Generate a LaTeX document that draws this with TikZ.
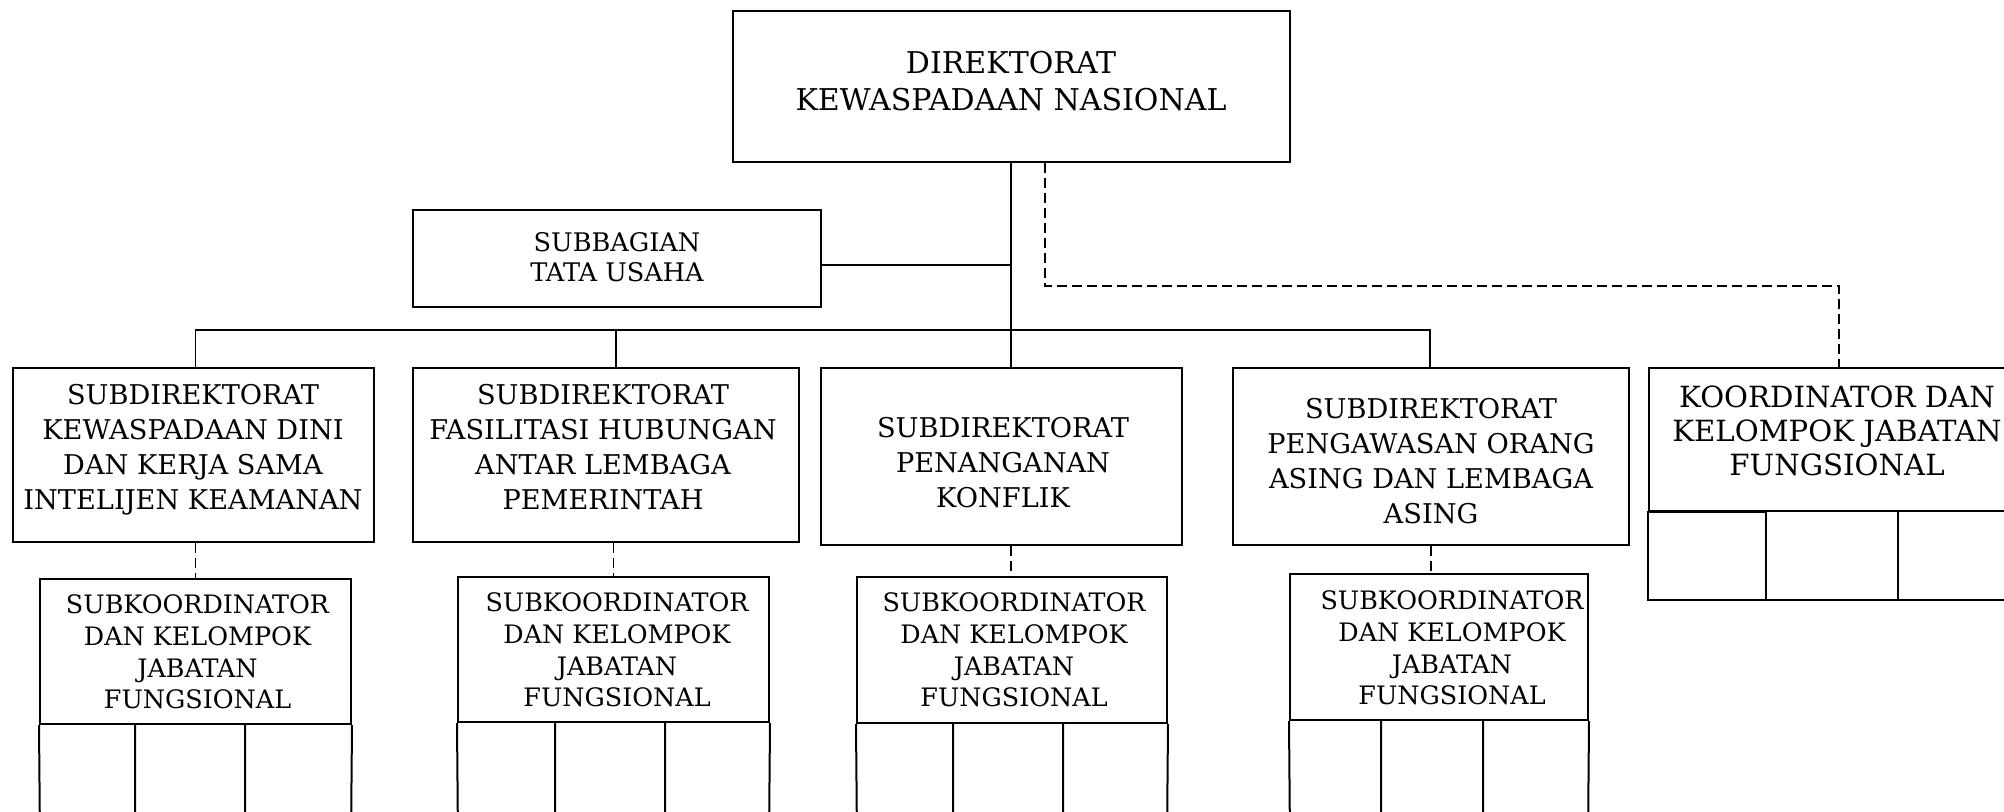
\documentclass[tikz,border=0pt]{standalone}
\usepackage{fontspec}
\setmainfont{DejaVu Serif}
\begin{document}
\begin{tikzpicture}[x=0.5pt,y=-0.5pt,
  box/.style={draw,line width=1pt,rectangle,inner sep=0pt},
  cell/.style={draw,line width=1pt},
  conn/.style={draw,line width=0.9pt},
  dline/.style={draw,line width=0.9pt,dash pattern=on 5pt off 2.5pt},
  bigtxt/.style={align=center,font=\fontsize{15pt}{18.5pt}\selectfont,inner sep=0pt},
  midtxt/.style={align=center,font=\fontsize{13.6pt}{17.5pt}\selectfont,inner sep=0pt},
  ktxt/.style={align=center,font=\fontsize{14.6pt}{17pt}\selectfont,inner sep=0pt},
  subtxt/.style={align=center,font=\fontsize{12.7pt}{15.8pt}\selectfont,inner sep=0pt},
  smtxt/.style={align=center,font=\fontsize{12.8pt}{15pt}\selectfont,inner sep=0pt}]
\useasboundingbox (0,0) rectangle (2004,812);
\clip (0,0) rectangle (2004,812);
\fill[white] (0,0) rectangle (2004,812);
% main boxes
\node[box,minimum width=278.5pt,minimum height=75.5pt] (T) at (1011.5,86.5) {};
\node[box,minimum width=204pt,minimum height=48.5pt] (S) at (617,258.5) {};
\node[box,minimum width=180.5pt,minimum height=87pt] (B1) at (193.5,455) {};
\node[box,minimum width=193pt,minimum height=87pt] (B2) at (606,455) {};
\node[box,minimum width=180.5pt,minimum height=88.5pt] (B3) at (1001.5,456.5) {};
\node[box,minimum width=198pt,minimum height=88.5pt] (B4) at (1431,456.5) {};
\node[box,minimum width=188pt,minimum height=71.5pt] (K) at (1837,439.5) {};
% sub boxes
\node[box,minimum width=155.5pt,minimum height=72.5pt] (S1) at (195.5,651.5) {};
\node[box,minimum width=155.5pt,minimum height=72.5pt] (S2) at (613.5,649.5) {};
\node[box,minimum width=155pt,minimum height=73pt] (S3) at (1012,650) {};
\node[box,minimum width=149pt,minimum height=73pt] (S4) at (1439,647) {};
% texts
\node[bigtxt] (Tt) at (1011,81) {DIREKTORAT\\KEWASPADAAN NASIONAL};
\node[smtxt] (St) at (617,257) {SUBBAGIAN\\TATA USAHA};
\node[midtxt] (B1t) at (193,450) {SUBDIREKTORAT\\KEWASPADAAN DINI\\DAN KERJA SAMA\\INTELIJEN KEAMANAN};
\node[midtxt] (B2t) at (603,447) {SUBDIREKTORAT\\FASILITASI HUBUNGAN\\ANTAR LEMBAGA\\PEMERINTAH};
\node[midtxt] (B3t) at (1003,463) {SUBDIREKTORAT\\PENANGANAN\\KONFLIK};
\node[midtxt] (B4t) at (1431,461) {SUBDIREKTORAT\\PENGAWASAN ORANG\\ASING DAN LEMBAGA\\ASING};
\node[ktxt] (Kt) at (1837,431) {KOORDINATOR DAN\\KELOMPOK JABATAN\\FUNGSIONAL};
\node[subtxt] (S1t) at (197.5,652) {SUBKOORDINATOR\\DAN KELOMPOK\\JABATAN\\FUNGSIONAL};
\node[subtxt] (S2t) at (617,650) {SUBKOORDINATOR\\DAN KELOMPOK\\JABATAN\\FUNGSIONAL};
\node[subtxt] (S3t) at (1014,650) {SUBKOORDINATOR\\DAN KELOMPOK\\JABATAN\\FUNGSIONAL};
\node[subtxt] (S4t) at (1452,648) {SUBKOORDINATOR\\DAN KELOMPOK\\JABATAN\\FUNGSIONAL};
% cells
\draw[cell] (K.south west) rectangle (1766,600) (1766,511) rectangle (1898,600) (1898,511) rectangle (K.south east |- 0,600);
\draw[cell] (S1.south west) -- (40,840) (135,724) -- (135,840) (245,724) -- (245,840) (S1.south east) -- (351,840);
\draw[cell] (S2.south west) -- (458,840) (555,722) -- (555,840) (665,722) -- (665,840) (S2.south east) -- (769,840);
\draw[cell] (S3.south west) -- (857,840) (953,723) -- (953,840) (1063,723) -- (1063,840) (S3.south east) -- (1167,840);
\draw[cell] (S4.south west) -- (1290,840) (1381,720) -- (1381,840) (1483,720) -- (1483,840) (S4.south east) -- (1588,840);
% connectors
\coordinate (trunk) at (1011,330);
\coordinate (bus1) at (195.5,330);
\coordinate (bus2) at (616,330);
\coordinate (bus4) at (1430,330);
\coordinate (sb) at (821,265);
\draw[conn] (T.south -| trunk) -- (B3.north -| trunk);
\draw[conn] (S.east |- sb) -- (sb -| trunk);
\draw[conn] (B1.north -| bus1) -- (bus1) -- (bus4) -- (B4.north -| bus4);
\draw[conn] (bus2) -- (B2.north -| bus2);
\coordinate (d1) at (1045,286);
\draw[dline] (T.south -| d1) -- (d1) -- (d1 -| 1839,0) -- (K.north -| 1839,0);
\draw[dline] (B1.south -| S1.north) -- (S1.north);
\draw[dline] (B2.south -| S2.north) -- (S2.north);
\draw[dline] (B3.south -| trunk) -- (S3.north -| trunk);
\draw[dline] (B4.south) -- (S4.north -| B4.south);
\end{tikzpicture}
\end{document}
